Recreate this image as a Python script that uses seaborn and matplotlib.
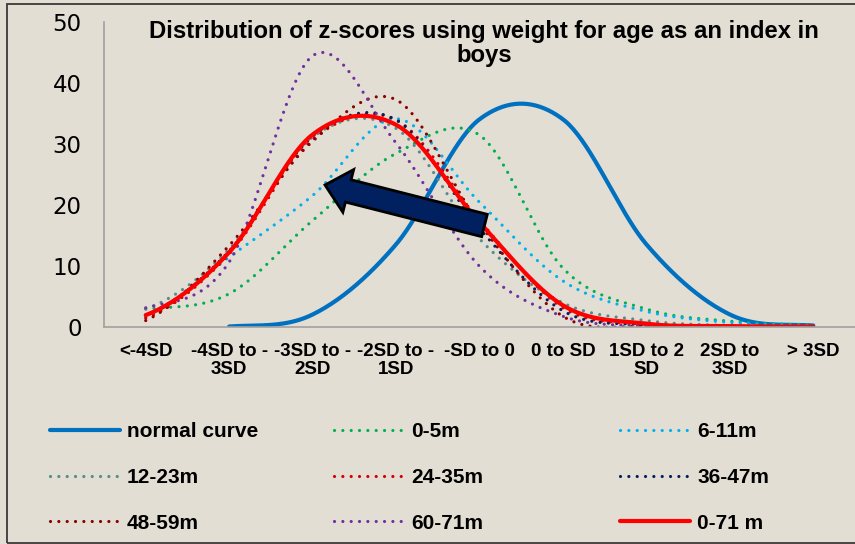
import numpy as np
import pandas as pd
import matplotlib
matplotlib.use("Agg")
import matplotlib.pyplot as plt
from matplotlib.lines import Line2D
from matplotlib.patches import Polygon, Rectangle
import seaborn as sns

# ---------------- data ----------------
categories = ["<-4SD", "-4SD to -\n3SD", "-3SD to -\n2SD", "-2SD to -\n1SD",
              "-SD to 0", "0 to SD", "1SD to 2\nSD", "2SD to\n3SD", "> 3SD"]

normal_curve = [np.nan, 0.13, 2.1, 13.6, 34.1, 34.1, 13.6, 2.1, 0.3]
m0_5   = [3.0, 5.5, 17.5, 28.5, 31.5, 9.7, 3.0, 1.0, 0.4]
m6_11  = [1.7, 11.5, 21.6, 34.2, 20.5, 7.6, 2.6, 0.8, 0.3]
m12_23 = [3.0, 12.8, 31.2, 32.6, 14.5, 4.0, 1.1, 0.3, 0.2]
m24_35 = [1.5, 12.0, 30.8, 34.0, 17.5, 3.2, 0.5, 0.2, 0.1]
m36_47 = [2.0, 12.5, 31.3, 34.0, 16.2, 2.7, 0.4, 0.1, 0.1]
m48_59 = [1.1, 13.4, 30.5, 37.3, 17.0, 1.8, 0.1, 0.1, 0.1]
m60_71 = [3.2, 10.7, 44.5, 30.2, 10.0, 1.8, 0.2, 0.1, 0.1]
m0_71  = [2.0, 12.3, 31.6, 33.2, 17.2, 3.6, 0.6, 0.2, 0.1]

series_names = ["normal curve", "0-5m", "6-11m", "12-23m", "24-35m",
                "36-47m", "48-59m", "60-71m", "0-71 m"]
series_values = [normal_curve, m0_5, m6_11, m12_23, m24_35,
                 m36_47, m48_59, m60_71, m0_71]
series_colors = ["#0070C0", "#00B050", "#00B0F0", "#548C8C", "#D40000",
                 "#002060", "#8B0000", "#7030A0", "#FF0000"]
solid = {"normal curve", "0-71 m"}

BG = "#E3DED3"

# ------------- smoothing (Excel-like smoothed line rendering) -------------
def smooth(vals, n=40):
    pts = [(i, v) for i, v in enumerate(vals) if not np.isnan(v)]
    xs = np.array([p[0] for p in pts], float)
    ys = np.array([p[1] for p in pts], float)
    k = len(ys)
    ox, oy = [], []
    for i in range(k - 1):
        y0 = ys[i - 1] if i > 0 else ys[i]
        y3 = ys[i + 2] if i + 2 < k else ys[i + 1]
        m0 = (ys[i + 1] - y0) / 2.0
        m1 = (y3 - ys[i]) / 2.0
        t = np.linspace(0, 1, n, endpoint=(i == k - 2))
        h00 = 2 * t**3 - 3 * t**2 + 1
        h10 = t**3 - 2 * t**2 + t
        h01 = -2 * t**3 + 3 * t**2
        h11 = t**3 - t**2
        ox.append(xs[i] + t * (xs[i + 1] - xs[i]))
        oy.append(h00 * ys[i] + h10 * m0 + h01 * ys[i + 1] + h11 * m1)
    return np.concatenate(ox), np.concatenate(oy)

rows = []
for name, vals in zip(series_names, series_values):
    sx, sy = smooth(vals)
    rows.append(pd.DataFrame({"x": sx, "value": sy, "series": name}))
df = pd.concat(rows, ignore_index=True)

# ---------------- figure ----------------
sns.set_style("white", {"axes.facecolor": BG, "figure.facecolor": BG})
plt.rcParams["font.family"] = ["DejaVu Sans"]
plt.rcParams["text.color"] = "black"
plt.rcParams["xtick.color"] = "black"
plt.rcParams["ytick.color"] = "black"

W, H = 855, 544
fig = plt.figure(figsize=(W / 100, H / 100), dpi=100, facecolor=BG)
ax_left, ax_right, ax_top, ax_bot = 104, 855, 22.3, 327.3
ax = fig.add_axes([ax_left / W, 1 - ax_bot / H, (ax_right - ax_left) / W,
                   (ax_bot - ax_top) / H])
ax.set_facecolor(BG)

DOT = (0, (0.01, 2.6))
for name, color in zip(series_names, series_colors):
    sub = df[df["series"] == name]
    if name in solid:
        sns.lineplot(data=sub, x="x", y="value", ax=ax, color=color, lw=3.0,
                     estimator=None, sort=False, legend=False,
                     solid_capstyle="round")
    else:
        sns.lineplot(data=sub, x="x", y="value", ax=ax, color=color, lw=2.3,
                     linestyle=DOT, dash_capstyle="round",
                     estimator=None, sort=False, legend=False)

ax.set_xlim(-0.5, 8.5)
ax.set_ylim(0, 50)
ax.set_xlabel("")
ax.set_ylabel("")
for s in ["top", "right"]:
    ax.spines[s].set_visible(False)
for s in ["left", "bottom"]:
    ax.spines[s].set_color("#A0A0A0")
    ax.spines[s].set_linewidth(1.2)

ax.set_yticks(range(0, 51, 10))
ax.tick_params(axis="y", length=6, width=1.2, color="#A0A0A0", pad=10,
               labelsize=16.5, labelcolor="black")
ax.set_xticks(range(len(categories)))
ax.set_xticklabels(categories, fontfamily="Liberation Sans", fontweight="bold",
                   fontsize=13.5, linespacing=1.1, color="black")
ax.set_xticks(np.arange(0.5, 8, 1), minor=True)
ax.tick_params(axis="x", which="major", length=0, pad=11)
ax.tick_params(axis="x", which="minor", length=5, width=1.2, color="#A0A0A0")

# title
fig.text(484 / W, 1 - 43.5 / H,
         "Distribution of z-scores using weight for age as an index in\nboys",
         ha="center", va="center", fontfamily="Liberation Sans",
         fontweight="bold", fontsize=17.2, linespacing=1.1, color="black")

# arrow annotation (block arrow)
tail = np.array([484.5, 225.5])
tip = np.array([325.0, 185.0])
u = (tip - tail) / np.linalg.norm(tip - tail)
nrm = np.array([-u[1], u[0]])
Lr = np.linalg.norm(tip - tail)
base = tail + u * (Lr - 24)
verts_px = [tail + nrm * 11.5, base + nrm * 11.5, base + nrm * 22, tip,
            base - nrm * 22, base - nrm * 11.5, tail - nrm * 11.5]
verts = [(p[0] / W, 1 - p[1] / H) for p in verts_px]
fig.add_artist(Polygon(verts, closed=True, facecolor="#002060",
                       edgecolor="black", lw=2, transform=fig.transFigure,
                       zorder=10))

# border
fig.add_artist(Rectangle((7 / W, 1 - 542.5 / H), (870 - 7) / W, (542.5 - 3.5) / H,
                         fill=False, edgecolor="#3A3A3A", lw=1.3,
                         transform=fig.transFigure, zorder=11))

# legend in three columns (row-major order like the reference)
def handle(name, color):
    if name in solid:
        return Line2D([], [], color=color, lw=3.0, solid_capstyle="round")
    return Line2D([], [], color=color, lw=2.3, linestyle=DOT,
                  dash_capstyle="round")

handles = [handle(n, c) for n, c in zip(series_names, series_colors)]
col_x = [50, 334, 620]
for ci in range(3):
    idx = [ci, ci + 3, ci + 6]
    leg = fig.legend([handles[i] for i in idx], [series_names[i] for i in idx],
                     loc="center left", bbox_to_anchor=(col_x[ci] / W, 1 - 477.5 / H),
                     frameon=False, borderpad=0, borderaxespad=0,
                     handlelength=3.36, handletextpad=0.34, labelspacing=1.28,
                     labelcolor="black",
                     prop={"family": "Liberation Sans", "weight": "bold",
                           "size": 15})

fig.savefig("out.png", dpi=100, facecolor=BG)
